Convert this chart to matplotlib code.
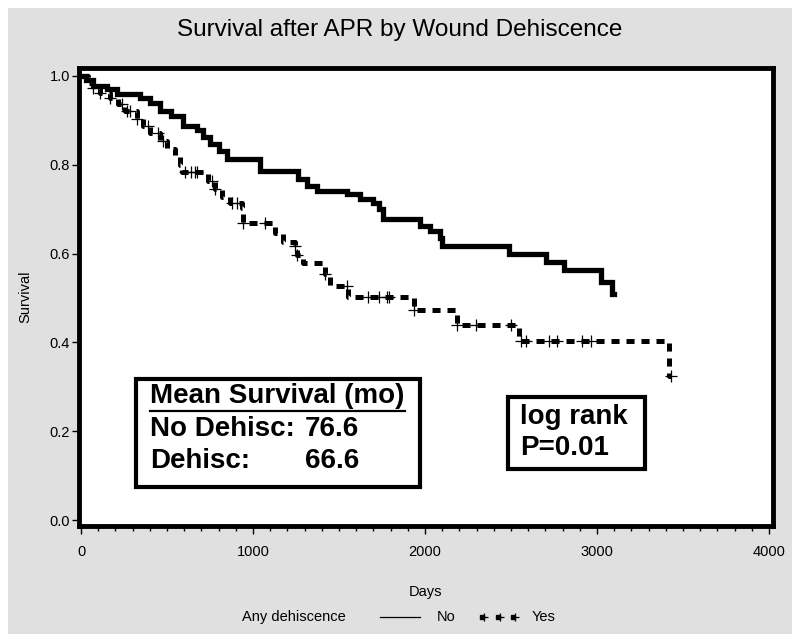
import numpy as np
import matplotlib
matplotlib.use('Agg')
import matplotlib.pyplot as plt
from matplotlib.patches import Rectangle
from matplotlib.lines import Line2D
from matplotlib.ticker import MultipleLocator

matplotlib.rcParams['font.family'] = 'Liberation Sans'
matplotlib.rcParams['lines.scale_dashes'] = False

# Kaplan-Meier steps: (days, survival)
days_no = [0, 30, 70, 150, 209, 342, 400, 458, 520, 592, 673, 710, 749, 800, 847,
           1039, 1260, 1311, 1370, 1544, 1619, 1695, 1730, 1753, 1968, 2026, 2084,
           2101, 2490, 2705, 2809, 3024, 3088]
surv_no = [1.0, 0.99, 0.978, 0.97, 0.96, 0.951, 0.94, 0.921, 0.91, 0.888, 0.878,
           0.862, 0.847, 0.83, 0.813, 0.787, 0.769, 0.753, 0.742, 0.735, 0.724,
           0.715, 0.70, 0.679, 0.663, 0.652, 0.636, 0.618, 0.60, 0.58, 0.562,
           0.535, 0.51]
end_no = 3100

days_yes = [0, 40, 70, 110, 168, 215, 255, 325, 360, 400, 458, 499, 545, 575, 586,
            740, 778, 818, 865, 934, 940, 1130, 1172, 1242, 1254, 1290, 1416, 1445,
            1550, 1938, 2188, 2548, 3418]
surv_yes = [1.0, 0.985, 0.973, 0.962, 0.951, 0.937, 0.921, 0.903, 0.888, 0.872,
            0.854, 0.836, 0.818, 0.80, 0.784, 0.764, 0.746, 0.728, 0.715, 0.703,
            0.67, 0.647, 0.625, 0.618, 0.596, 0.578, 0.553, 0.528, 0.503, 0.472,
            0.44, 0.403, 0.325]
end_yes = 3430
censor_yes = [70, 110, 168, 238, 267, 284, 325, 389, 447, 476, 604, 640, 662, 673,
              760, 778, 876, 905, 940, 1068, 1242, 1254, 1416, 1544, 1666, 1735,
              1776, 1793, 1938, 2188, 2298, 2501, 2560, 2588, 2722, 2768, 2913,
              2966, 3430]

x_ticks = [0, 1000, 2000, 3000, 4000]
y_ticks = [0.0, 0.2, 0.4, 0.6, 0.8, 1.0]

W, H = 800, 643
small = 10.5
big = 20


def fx(px):
    return px / W


def fy(py):
    return 1 - py / H


fig = plt.figure(figsize=(8, 6.43), dpi=100, facecolor='white')
fig.add_artist(Rectangle((fx(8), fy(634)), fx(792) - fx(8), fy(8) - fy(634),
                         transform=fig.transFigure, facecolor='#e0e0e0',
                         edgecolor='none', zorder=-10))

ax = fig.add_axes([fx(79), fy(526), fx(773) - fx(79), fy(68) - fy(526)])
ax.set_facecolor('white')

# no dehiscence - thick solid
ax.step(days_no + [end_no], surv_no + [surv_no[-1]], where='post',
        color='black', lw=3.8, solid_joinstyle='miter')

# dehiscence - thick dashed with censor marks
ax.step(days_yes + [end_yes], surv_yes + [surv_yes[-1]], where='post',
        color='black', lw=3.6, linestyle=(0, (5.8, 5.0)), dash_capstyle='butt')
idx = np.searchsorted(days_yes, censor_yes, side='right') - 1
ax.plot(censor_yes, np.array(surv_yes)[idx], '+', color='black', ms=9, mew=0.9)

ax.set_xlim(-12, 4023)
ax.set_ylim(-0.0135, 1.018)
ax.set_xticks(x_ticks)
ax.set_xticklabels([str(v) for v in x_ticks])
ax.set_yticks(y_ticks)
ax.set_yticklabels([f'{v:.1f}' for v in y_ticks])
ax.xaxis.set_minor_locator(MultipleLocator(100))
ax.tick_params(axis='x', which='major', direction='out', length=6, width=1, pad=8,
               labelsize=small)
ax.tick_params(axis='x', which='minor', direction='out', length=3.5, width=1)
ax.tick_params(axis='y', which='major', direction='out', length=5, width=1, pad=1.5,
               labelsize=small)
for s in ax.spines.values():
    s.set_linewidth(3.5)

fig.text(fx(400), fy(30), 'Survival after APR by Wound Dehiscence', ha='center',
         va='center', fontsize=17.5)
fig.text(fx(25), fy(297), 'Survival', rotation=90, ha='center', va='center',
         fontsize=small)
fig.text(fx(425), fy(592), 'Days', ha='center', va='center', fontsize=small)

# legend at the bottom
fig.text(fx(242), fy(617), 'Any dehiscence', ha='left', va='center', fontsize=small)
fig.add_artist(Line2D([fx(380), fx(420)], [fy(617), fy(617)], color='black', lw=0.9,
                      transform=fig.transFigure))
fig.text(fx(437), fy(617), 'No', ha='left', va='center', fontsize=small)
fig.add_artist(Line2D([fx(482), fx(498), fx(513)], [fy(617)] * 3, color='black',
                      linestyle='none', marker='s', ms=3.5, transform=fig.transFigure))
fig.add_artist(Line2D([fx(484), fx(500), fx(515)], [fy(617)] * 3, color='black',
                      linestyle='none', marker='+', ms=6, mew=0.9,
                      transform=fig.transFigure))
fig.text(fx(532), fy(617), 'Yes', ha='left', va='center', fontsize=small)

# mean survival box
fig.add_artist(Rectangle((fx(136), fy(487)), fx(420) - fx(136), fy(379) - fy(487),
                         transform=fig.transFigure, facecolor='white',
                         edgecolor='black', lw=3, zorder=5))
fig.text(fx(150), fy(396), 'Mean Survival (mo)', ha='left', va='center',
         fontsize=big, fontweight='bold', zorder=6)
fig.add_artist(Line2D([fx(150), fx(405)], [fy(411), fy(411)], color='black', lw=1.6,
                      transform=fig.transFigure, zorder=6))
fig.text(fx(150), fy(429), 'No Dehisc:', ha='left', va='center', fontsize=big,
         fontweight='bold', zorder=6)
fig.text(fx(305), fy(429), '76.6', ha='left', va='center', fontsize=big,
         fontweight='bold', zorder=6)
fig.text(fx(150), fy(461), 'Dehisc:', ha='left', va='center', fontsize=big,
         fontweight='bold', zorder=6)
fig.text(fx(305), fy(461), '66.6', ha='left', va='center', fontsize=big,
         fontweight='bold', zorder=6)

# log rank box
fig.add_artist(Rectangle((fx(508), fy(469)), fx(645) - fx(508), fy(397) - fy(469),
                         transform=fig.transFigure, facecolor='white',
                         edgecolor='black', lw=3, zorder=5))
fig.text(fx(520), fy(417), 'log rank', ha='left', va='center', fontsize=big,
         fontweight='bold', zorder=6)
fig.text(fx(520), fy(448), 'P=0.01', ha='left', va='center', fontsize=big,
         fontweight='bold', zorder=6)

fig.savefig('out.png', dpi=100)
